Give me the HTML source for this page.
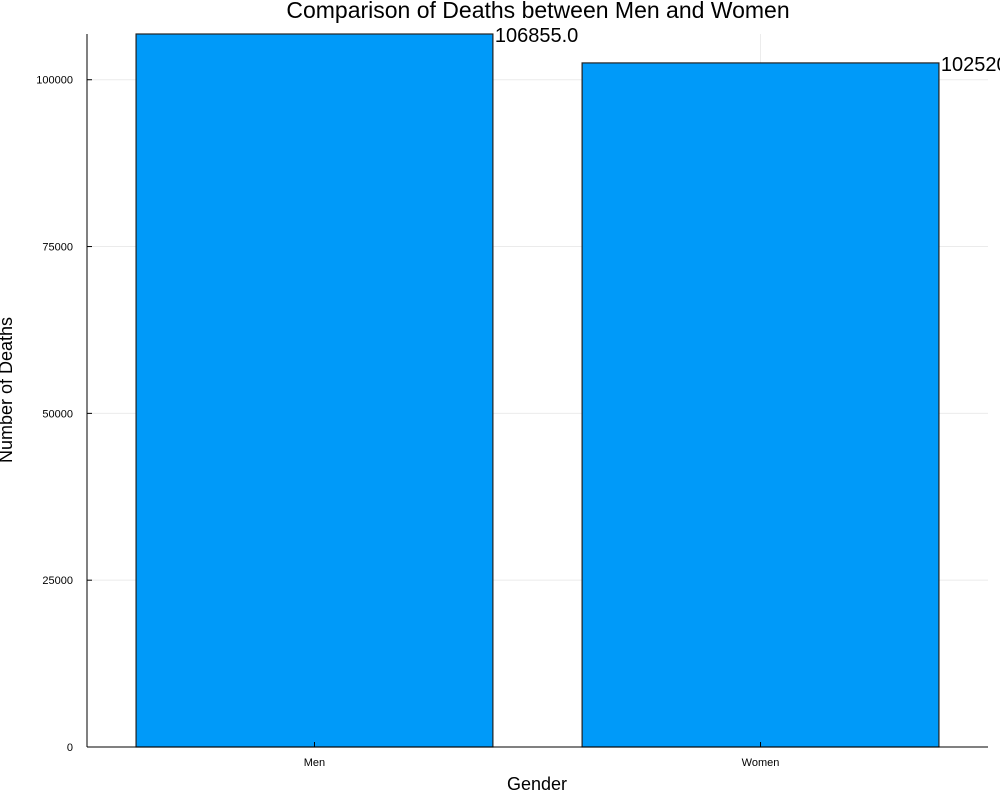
<!DOCTYPE html>
<html><head><meta charset="utf-8"><style>
body{margin:0;background:#fff;font-family:"Liberation Sans",sans-serif}
</style></head><body>
<svg id="chart" width="1000" height="800" style="display:block">
<text x="538" y="18" text-anchor="middle" font-size="23">Comparison of Deaths between Men and Women</text>
<text x="537" y="790" text-anchor="middle" font-size="18">Gender</text>
<text transform="translate(12,390) rotate(-90)" text-anchor="middle" font-size="18">Number of Deaths</text>
<g id="grid"></g><g id="bars"></g><g id="axes"></g>
</svg>
<script>
const categories=["Men","Women"];
const deaths=[106855.0,102520.0];
const yTicks=[0,25000,50000,75000,100000];
const L=87,R=988,T=34,B=747;
const ymax=106855;
const ys=v=>B-(v/ymax)*(B-T);
const xs=i=>L+(i+1-0.49)/(2.02)*(R-L);
const ns="http://www.w3.org/2000/svg";
function mk(tag,attrs,parent){const e=document.createElementNS(ns,tag);for(const k in attrs)e.setAttribute(k,attrs[k]);parent.appendChild(e);return e;}
const grid=document.getElementById('grid'),bars=document.getElementById('bars'),axes=document.getElementById('axes');
yTicks.forEach(t=>{
 const g=mk('line',{x1:L,x2:R,y1:ys(t),y2:ys(t),stroke:'#000','stroke-opacity':0.08},grid);
 
 
 const lb=mk('text',{x:L-14,y:ys(t)+4,'text-anchor':'end','font-size':11},axes);
 lb.textContent=t;
 
 
 const tk=mk('line',{x1:L,x2:L+5,y1:ys(t),y2:ys(t),stroke:'#000'},axes);
 
 
});
categories.forEach((c,i)=>{
 const cx=xs(i),w=0.8*(xs(1)-xs(0));
 const gl=mk('line',{x1:cx,x2:cx,y1:T,y2:B,stroke:'#000','stroke-opacity':0.08},grid);
 
 
 const r=mk('rect',{x:cx-w/2,y:ys(deaths[i]),width:w,height:B-ys(deaths[i]),fill:'#009af9',stroke:'#222','stroke-width':1.2},bars);
 
 
 const v=mk('text',{x:cx+w/2+2,y:ys(deaths[i])+8,'font-size':20},bars);
 v.textContent=deaths[i].toFixed(1);
 
 
 const lb=mk('text',{x:cx,y:B+19,'text-anchor':'middle','font-size':11},axes);
 lb.textContent=c;
 
 
 const tk=mk('line',{x1:cx,x2:cx,y1:B,y2:B-5,stroke:'#000'},axes);
 
 
});
const xa=mk('line',{x1:L,x2:R,y1:B,y2:B,stroke:'#000'},axes);


const ya=mk('line',{x1:L,x2:L,y1:T,y2:B,stroke:'#000'},axes);


</script>
</body></html>
